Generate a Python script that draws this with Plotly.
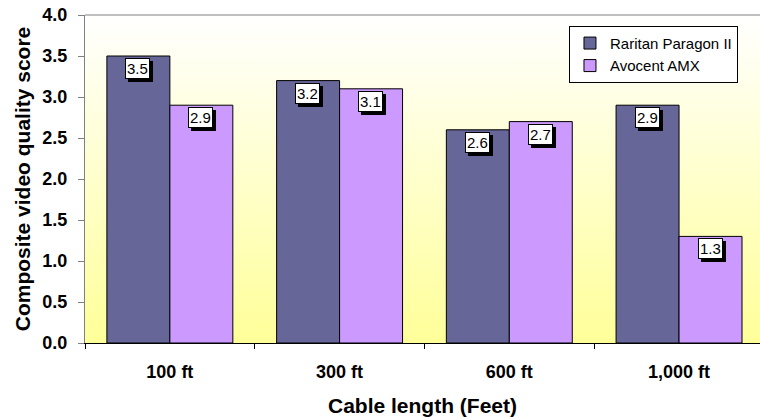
import plotly.graph_objects as go
import base64

categories = ["100 ft", "300 ft", "600 ft", "1,000 ft"]
raritan = [3.5, 3.2, 2.6, 2.9]
avocent = [2.9, 3.1, 2.7, 1.3]
series_names = ["Raritan Paragon II", "Avocent AMX"]
y_ticks = [0.0, 0.5, 1.0, 1.5, 2.0, 2.5, 3.0, 3.5, 4.0]

c_rar = "#666699"
c_avo = "#CC99FF"
FONT = "Arial, Liberation Sans, sans-serif"

svg = ('<svg xmlns="http://www.w3.org/2000/svg" width="100" height="100" preserveAspectRatio="none">'
       '<defs><linearGradient id="g" x1="0" y1="0" x2="0" y2="1">'
       '<stop offset="0" stop-color="#FFFFFF"/><stop offset="1" stop-color="#FFFF99"/>'
       '</linearGradient></defs><rect width="100" height="100" fill="url(#g)"/></svg>')
bg_src = "data:image/svg+xml;base64," + base64.b64encode(svg.encode()).decode()

fig = go.Figure()
fig.add_trace(go.Bar(x=categories, y=raritan, name=series_names[0],
                     marker=dict(color=c_rar, line=dict(color="black", width=1))))
fig.add_trace(go.Bar(x=categories, y=avocent, name=series_names[1],
                     marker=dict(color=c_avo, line=dict(color="black", width=1))))

annots = []
for vals, sh in ((raritan, -32), (avocent, 31)):
    for i, v in enumerate(vals):
        txt = f"{v:.1f}"
        blank = "\u2007\u2008\u2007"  # same width as "d.d", used for the drop shadow box
        annots.append(dict(x=i, y=v, xref="x", yref="y", text=blank, showarrow=False,
                           xshift=sh + 3, yshift=-5, yanchor="top",
                           font=dict(family=FONT, size=15, color="black"),
                           bgcolor="black", bordercolor="black", borderwidth=1, borderpad=1))
        annots.append(dict(x=i, y=v, xref="x", yref="y", text=txt, showarrow=False,
                           xshift=sh, yshift=-2, yanchor="top",
                           font=dict(family=FONT, size=15, color="black"),
                           bgcolor="white", bordercolor="black", borderwidth=1, borderpad=1))

fig.update_layout(
    width=760, height=417,
    margin=dict(l=85, r=0, t=15, b=74, autoexpand=False),
    paper_bgcolor="white", plot_bgcolor="rgba(0,0,0,0)",
    barmode="group", bargap=0.258, bargroupgap=0,
    font=dict(family=FONT, color="black"),
    images=[dict(source=bg_src, xref="paper", yref="paper", x=0, y=1, sizex=1, sizey=1,
                 sizing="stretch", layer="below", xanchor="left", yanchor="top")],
    legend=dict(x=0.717, y=0.967, xanchor="left", yanchor="top",
                bgcolor="white", bordercolor="black", borderwidth=1,
                font=dict(size=15, family=FONT),
                itemwidth=30, tracegroupgap=0),
    annotations=annots,
    showlegend=True,
)
fig.update_xaxes(range=[-0.5, 3.477], showline=True, linecolor="black", linewidth=1,
                 ticks="outside", tickson="boundaries", ticklen=5, tickcolor="black",
                 tickfont=dict(size=18, family=FONT, weight="bold"),
                 ticklabelstandoff=12, automargin=False,
                 title=dict(text="<b>Cable length (Feet)</b>", font=dict(size=21), standoff=19),
                 mirror=False, showgrid=False)
fig.update_yaxes(range=[0, 4.0], tickvals=y_ticks, tickformat=".1f", showline=True,
                 linecolor="#808080", linewidth=1, ticks="outside", ticklen=6, tickcolor="#808080",
                 tickfont=dict(size=18, family=FONT, weight="bold"),
                 ticklabelstandoff=7, showgrid=False, zeroline=False, automargin=False,
                 title=dict(text="<b>Composite video quality score</b>", font=dict(size=21), standoff=6))
# top border
fig.add_shape(type="line", xref="paper", yref="paper", x0=0, x1=1, y0=1, y1=1,
              line=dict(color="#808080", width=1))
fig.write_html("out.html", config={"displayModeBar": False},
               post_script="document.body.style.margin='0';document.body.style.padding='0';")
